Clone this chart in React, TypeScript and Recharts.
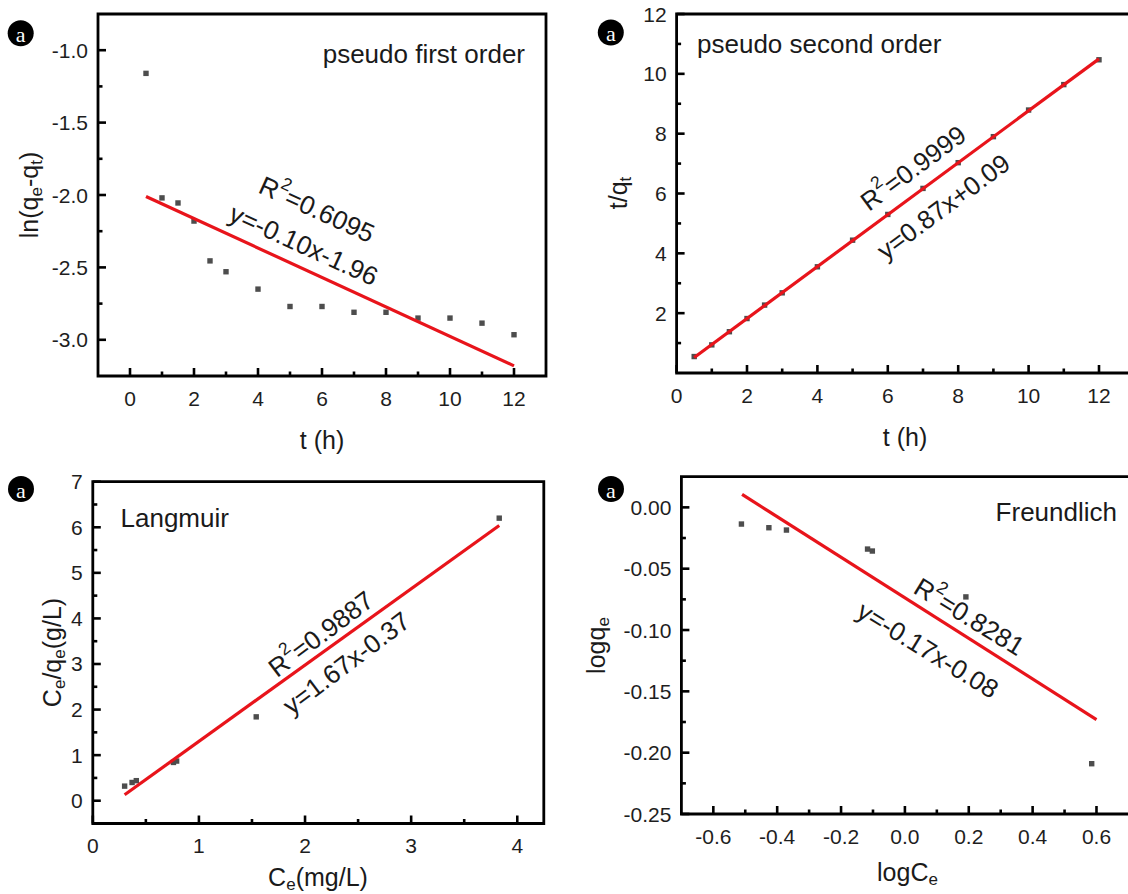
import React from "react";
import { ScatterChart, Scatter, XAxis, YAxis, ReferenceArea, ReferenceDot } from "recharts";

const FONT = '"Liberation Sans", Arial, sans-serif';
const RED = "#e8141b";
const DOT = "#4d4d4d";
const TICK = 21;
const TITLE = 25;
const NOTE = 26;

// ---- data ----
const kineticT = [0.5, 1, 1.5, 2, 2.5, 3, 4, 5, 6, 7, 8, 9, 10, 11, 12];
const pfoY = [-1.16, -2.02, -2.055, -2.18, -2.455, -2.53, -2.65, -2.77, -2.77, -2.81, -2.81, -2.85, -2.85, -2.885, -2.965];
const pfoFitX = [0.5, 12];
const pfoFitY = [-2.01, -3.18];

const psoY = [0.55, 0.94, 1.38, 1.82, 2.27, 2.68, 3.55, 4.44, 5.3, 6.17, 7.03, 7.9, 8.79, 9.64, 10.47];
const psoFitX = [0.5, 12];
const psoFitY = [0.52, 10.5];

const langCe = [0.3, 0.37, 0.41, 0.76, 0.79, 1.54, 3.83];
const langCeQe = [0.32, 0.4, 0.44, 0.84, 0.87, 1.84, 6.2];
const langFitX = [0.3, 3.83];
const langFitY = [0.13, 6.04];

const freLogCe = [-0.512, -0.426, -0.371, -0.117, -0.102, 0.191, 0.585];
const freLogQe = [-0.0136, -0.0166, -0.0185, -0.034, -0.0356, -0.073, -0.209];
const freFitX = [-0.51, 0.6];
const freFitY = [0.0106, -0.173];

// ticks (all = major + minor), majors get labels
const kinXTicks = [0, 1, 2, 3, 4, 5, 6, 7, 8, 9, 10, 11, 12];
const kinXMajor = [0, 2, 4, 6, 8, 10, 12];
const pfoYTicks = [-3.0, -2.75, -2.5, -2.25, -2.0, -1.75, -1.5, -1.25, -1.0];
const pfoYMajor = [-3.0, -2.5, -2.0, -1.5, -1.0];
const psoYTicks = [1, 2, 3, 4, 5, 6, 7, 8, 9, 10, 11, 12];
const psoYMajor = [2, 4, 6, 8, 10, 12];
const langXTicks = [0, 0.5, 1, 1.5, 2, 2.5, 3, 3.5, 4];
const langXMajor = [0, 1, 2, 3, 4];
const langYTicks = [0, 0.5, 1, 1.5, 2, 2.5, 3, 3.5, 4, 4.5, 5, 5.5, 6, 6.5, 7];
const langYMajor = [0, 1, 2, 3, 4, 5, 6, 7];
const freXTicks = [-0.6, -0.5, -0.4, -0.3, -0.2, -0.1, 0, 0.1, 0.2, 0.3, 0.4, 0.5, 0.6];
const freXMajor = [-0.6, -0.4, -0.2, 0, 0.2, 0.4, 0.6];
const freYTicks = [-0.25, -0.225, -0.2, -0.175, -0.15, -0.125, -0.1, -0.075, -0.05, -0.025, 0];
const freYMajor = [-0.25, -0.2, -0.15, -0.1, -0.05, 0];

const zip = (xs: number[], ys: number[]) => xs.map((x, i) => ({ x, y: ys[i] }));

type Part = { t: string; sub?: boolean; sup?: boolean };

function rich(parts: Part[], size: number) {
  let shift = 0;
  return parts.map((p, i) => {
    const target = p.sub ? size * 0.28 : p.sup ? -size * 0.4 : 0;
    const dy = target - shift;
    shift = target;
    return (
      <tspan key={i} dy={dy} fontSize={p.sub || p.sup ? size * 0.68 : size}>
        {p.t}
      </tspan>
    );
  });
}

function Square(props: any) {
  const { cx, cy } = props;
  if (cx == null || cy == null) return <g />;
  return <rect x={cx - 2.7} y={cy - 2.7} width={5.4} height={5.4} fill={DOT} />;
}

const isIn = (arr: number[], v: number) => arr.some((m) => Math.abs(m - v) < 1e-9);

function bottomTick(majors: number[], fmt: (v: number) => string) {
  return (props: any) => {
    const { x, y, payload } = props;
    const v = payload.value;
    const major = isIn(majors, v);
    return (
      <g>
        <line x1={x} x2={x} y1={y} y2={y - (major ? 8 : 4.5)} stroke="#000" strokeWidth={2.6} />
        {major && (
          <text x={x} y={y + 22} textAnchor="middle" dominantBaseline="central" fontSize={TICK} fontFamily={FONT} fill="#1e1e1e">
            {fmt(v)}
          </text>
        )}
      </g>
    );
  };
}

function leftTick(majors: number[], fmt: (v: number) => string) {
  return (props: any) => {
    const { x, y, payload } = props;
    const v = payload.value;
    const major = isIn(majors, v);
    return (
      <g>
        <line x1={x} x2={x + (major ? 8 : 4.5)} y1={y} y2={y} stroke="#000" strokeWidth={2.6} />
        {major && (
          <text x={x - 10} y={y} textAnchor="end" dominantBaseline="central" fontSize={TICK} fontFamily={FONT} fill="#1e1e1e">
            {fmt(v)}
          </text>
        )}
      </g>
    );
  };
}

type Note = { x: number; y: number; angle: number; parts: Part[] };

function noteLabel(n: Note) {
  return (props: any) => {
    const vb = props.viewBox || {};
    const cx = (vb.cx ?? vb.x + (vb.width || 0) / 2) as number;
    const cy = (vb.cy ?? vb.y + (vb.height || 0) / 2) as number;
    return (
      <text
        x={cx}
        y={cy}
        textAnchor="middle"
        dominantBaseline="central"
        transform={`rotate(${n.angle}, ${cx}, ${cy})`}
        fontFamily={FONT}
        fill="#1a1a1a"
      >
        {rich(n.parts, NOTE)}
      </text>
    );
  };
}

interface PanelProps {
  left: number;
  top: number;
  width: number;
  height: number;
  margin: { top: number; right: number; left: number; bottom: number };
  yw: number;
  xh: number;
  xDomain: [number, number];
  yDomain: [number, number];
  xTicks: number[];
  xMajor: number[];
  yTicks: number[];
  yMajor: number[];
  xFmt: (v: number) => string;
  yFmt: (v: number) => string;
  points: { x: number; y: number }[];
  fit: { x: number; y: number }[];
  notes: Note[];
  xTitle: Part[];
  yTitle: Part[];
  xTitlePos: [number, number];
  yTitlePos: [number, number];
  name: string;
  namePos: [number, number];
  nameAnchor: "start" | "end";
  badge: [number, number];
}

function Panel(p: PanelProps) {
  return (
    <div style={{ position: "absolute", left: p.left, top: p.top, width: p.width, height: p.height }}>
      <ScatterChart width={p.width} height={p.height} margin={p.margin}>
        <XAxis
          type="number"
          dataKey="x"
          domain={p.xDomain}
          allowDataOverflow
          ticks={p.xTicks}
          interval={0}
          height={p.xh}
          axisLine={false}
          tickLine={false}
          tickSize={0}
          tickMargin={0}
          tick={bottomTick(p.xMajor, p.xFmt)}
        />
        <YAxis
          type="number"
          dataKey="y"
          domain={p.yDomain}
          allowDataOverflow
          ticks={p.yTicks}
          interval={0}
          width={p.yw}
          axisLine={false}
          tickLine={false}
          tickSize={0}
          tickMargin={0}
          tick={leftTick(p.yMajor, p.yFmt)}
        />
        <ReferenceArea
          x1={p.xDomain[0]}
          x2={p.xDomain[1]}
          y1={p.yDomain[0]}
          y2={p.yDomain[1]}
          fill="none"
          fillOpacity={0}
          stroke="#000"
          strokeWidth={2.8}
          ifOverflow="visible"
        />
        <Scatter data={p.points} shape={<Square />} isAnimationActive={false} />
        <Scatter
          data={p.fit}
          line={{ stroke: RED, strokeWidth: 3.2 }}
          lineType="joint"
          shape={() => <g />}
          isAnimationActive={false}
        />
        {p.notes.map((n, i) => (
          <ReferenceDot
            key={i}
            x={n.x}
            y={n.y}
            r={1}
            fill="none"
            stroke="none"
            ifOverflow="visible"
            label={{ content: noteLabel(n) }}
          />
        ))}
      </ScatterChart>
      <svg
        width={p.width}
        height={p.height}
        style={{ position: "absolute", left: 0, top: 0, pointerEvents: "none", overflow: "visible" }}
      >
        <text x={p.xTitlePos[0]} y={p.xTitlePos[1]} textAnchor="middle" dominantBaseline="central" fontFamily={FONT} fill="#1a1a1a">
          {rich(p.xTitle, TITLE)}
        </text>
        <text
          x={p.yTitlePos[0]}
          y={p.yTitlePos[1]}
          textAnchor="middle"
          dominantBaseline="central"
          transform={`rotate(-90, ${p.yTitlePos[0]}, ${p.yTitlePos[1]})`}
          fontFamily={FONT}
          fill="#1a1a1a"
        >
          {rich(p.yTitle, TITLE)}
        </text>
        <text x={p.namePos[0]} y={p.namePos[1]} textAnchor={p.nameAnchor} fontSize={NOTE} fontFamily={FONT} fill="#1a1a1a">
          {p.name}
        </text>
        <circle cx={p.badge[0]} cy={p.badge[1]} r={13} fill="#000" />
        <text
          x={p.badge[0]}
          y={p.badge[1] + 1}
          textAnchor="middle"
          dominantBaseline="central"
          fontSize={22}
          fontFamily='"Liberation Serif", "DejaVu Serif", serif'
          fill="#fff"
        >
          a
        </text>
      </svg>
    </div>
  );
}

const f0 = (v: number) => String(v);
const f1 = (v: number) => v.toFixed(1);
const f2 = (v: number) => v.toFixed(2);

const R2 = (v: string): Part[] => [{ t: "R" }, { t: "2", sup: true }, { t: "=" + v }];

export default function App() {
  return (
    <div
      style={{
        position: "absolute",
        left: 0,
        top: 0,
        width: 1128,
        height: 894,
        overflow: "hidden",
        background: "#fff",
      }}
    >
      <Panel
        left={0}
        top={0}
        width={564}
        height={450}
        margin={{ top: 14, right: 18, left: 0, bottom: 0 }}
        yw={98}
        xh={74}
        xDomain={[-1, 13]}
        yDomain={[-3.25, -0.75]}
        xTicks={kinXTicks}
        xMajor={kinXMajor}
        yTicks={pfoYTicks}
        yMajor={pfoYMajor}
        xFmt={f0}
        yFmt={f1}
        points={zip(kineticT, pfoY)}
        fit={zip(pfoFitX, pfoFitY)}
        notes={[
          { x: 5.84, y: -2.1, angle: 24.5, parts: R2("0.6095") },
          { x: 5.43, y: -2.345, angle: 24.5, parts: [{ t: "y=-0.10x-1.96" }] },
        ]}
        xTitle={[{ t: "t (h)" }]}
        yTitle={[{ t: "ln(q" }, { t: "e", sub: true }, { t: "-q" }, { t: "t", sub: true }, { t: ")" }]}
        xTitlePos={[322, 440]}
        yTitlePos={[29, 195]}
        name="pseudo first order"
        namePos={[525, 63]}
        nameAnchor="end"
        badge={[20.7, 33.3]}
      />
      <Panel
        left={564}
        top={0}
        width={600}
        height={450}
        margin={{ top: 14, right: 29.8, left: 0, bottom: 0 }}
        yw={112.6}
        xh={77}
        xDomain={[0, 13]}
        yDomain={[0, 12]}
        xTicks={kinXTicks}
        xMajor={kinXMajor}
        yTicks={psoYTicks}
        yMajor={psoYMajor}
        xFmt={f0}
        yFmt={f0}
        points={zip(kineticT, psoY)}
        fit={zip(psoFitX, psoFitY)}
        notes={[
          { x: 6.72, y: 6.85, angle: -36.5, parts: R2("0.9999") },
          { x: 7.58, y: 5.56, angle: -36.5, parts: [{ t: "y=0.87x+0.09" }] },
        ]}
        xTitle={[{ t: "t (h)" }]}
        yTitle={[{ t: "t/q" }, { t: "t", sub: true }]}
        xTitlePos={[341, 437]}
        yTitlePos={[54, 193]}
        name="pseudo second order"
        namePos={[133, 53]}
        nameAnchor="start"
        badge={[46.8, 32.5]}
      />
      <Panel
        left={0}
        top={460}
        width={564}
        height={434}
        margin={{ top: 21.7, right: 20.2, left: 0, bottom: 0 }}
        yw={92.8}
        xh={70.5}
        xDomain={[0, 4.25]}
        yDomain={[-0.5, 7]}
        xTicks={langXTicks}
        xMajor={langXMajor}
        yTicks={langYTicks}
        yMajor={langYMajor}
        xFmt={f0}
        yFmt={f0}
        points={zip(langCe, langCeQe)}
        fit={zip(langFitX, langFitY)}
        notes={[
          { x: 2.15, y: 3.66, angle: -37, parts: R2("0.9887") },
          { x: 2.39, y: 3.02, angle: -37, parts: [{ t: "y=1.67x-0.37" }] },
        ]}
        xTitle={[{ t: "C" }, { t: "e", sub: true }, { t: "(mg/L)" }]}
        yTitle={[{ t: "C" }, { t: "e", sub: true }, { t: "/q" }, { t: "e", sub: true }, { t: "(g/L)" }]}
        xTitlePos={[318, 417]}
        yTitlePos={[52, 192.5]}
        name="Langmuir"
        namePos={[120.5, 66.7]}
        nameAnchor="start"
        badge={[21, 29]}
      />
      <Panel
        left={564}
        top={460}
        width={600}
        height={434}
        margin={{ top: 16.7, right: 29.2, left: 0, bottom: 0 }}
        yw={117.4}
        xh={80}
        xDomain={[-0.7, 0.72]}
        yDomain={[-0.25, 0.025]}
        xTicks={freXTicks}
        xMajor={freXMajor}
        yTicks={freYTicks}
        yMajor={freYMajor}
        xFmt={f1}
        yFmt={f2}
        points={zip(freLogCe, freLogQe)}
        fit={zip(freFitX, freFitY)}
        notes={[
          { x: 0.202, y: -0.0892, angle: 31.5, parts: R2("0.8281") },
          { x: 0.072, y: -0.1163, angle: 31.5, parts: [{ t: "y=-0.17x-0.08" }] },
        ]}
        xTitle={[{ t: "logC" }, { t: "e", sub: true }]}
        yTitle={[{ t: "logq" }, { t: "e", sub: true }]}
        xTitlePos={[343.5, 412]}
        yTitlePos={[32, 185.5]}
        name="Freundlich"
        namePos={[431.6, 60.7]}
        nameAnchor="start"
        badge={[47, 29]}
      />
    </div>
  );
}
